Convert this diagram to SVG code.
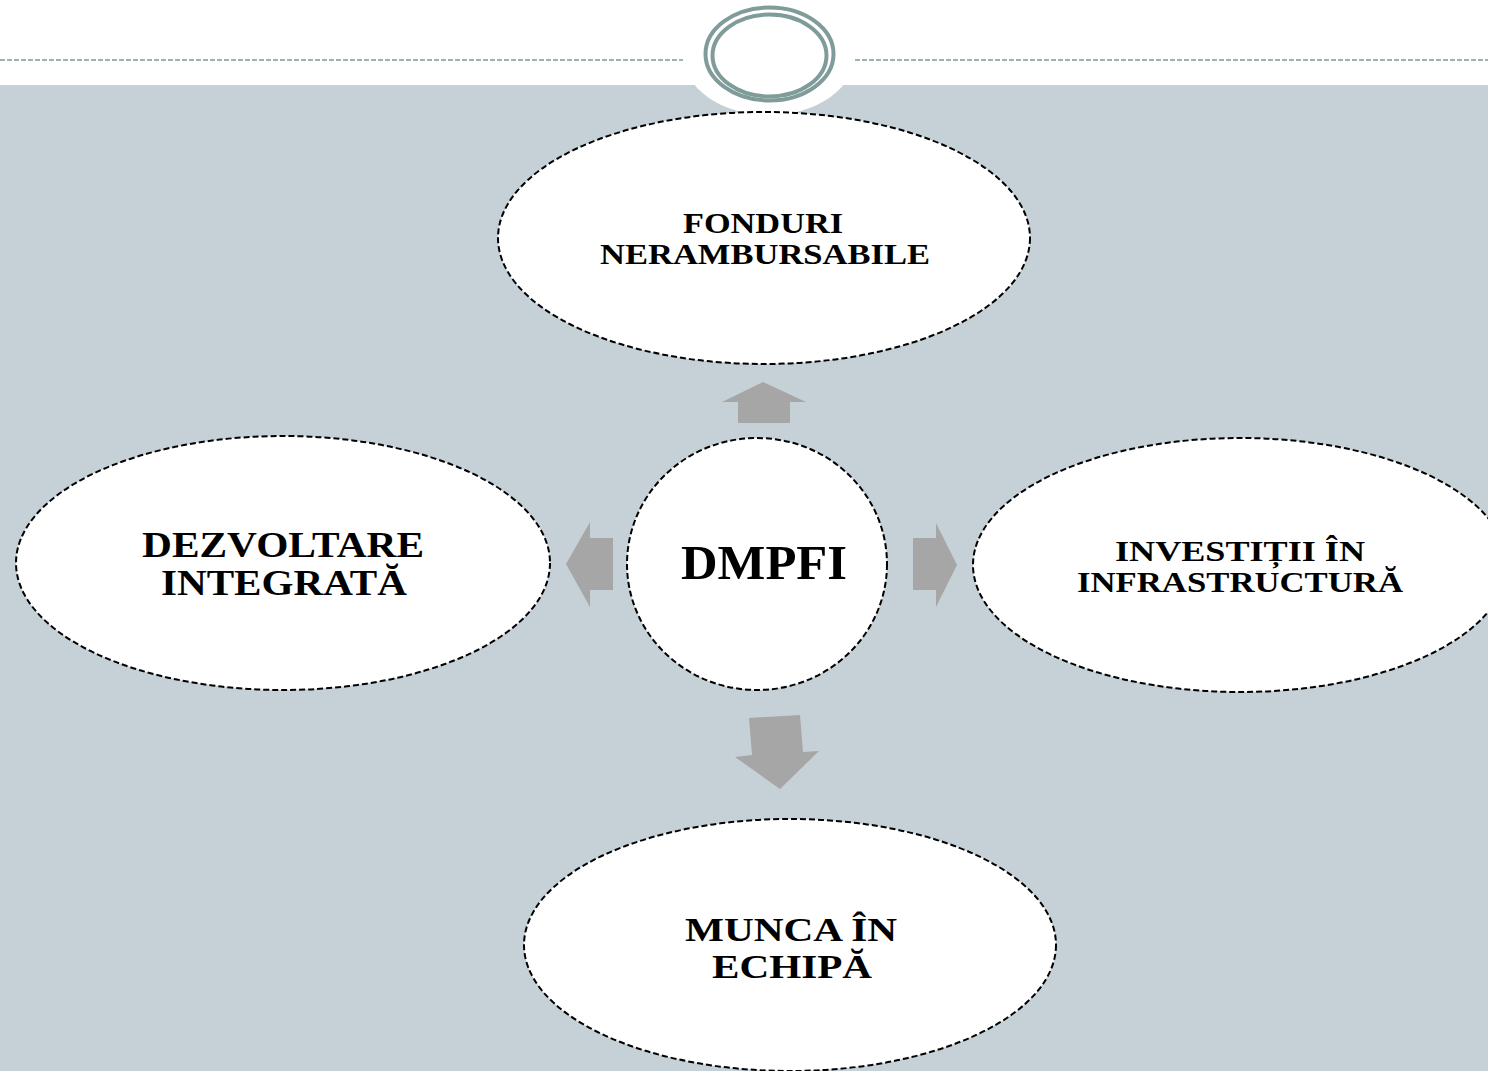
<svg xmlns="http://www.w3.org/2000/svg" width="1488" height="1071" viewBox="0 0 1488 1071">
  <style>
    .node { fill: #FFFFFF; stroke: #000000; stroke-width: 2; stroke-dasharray: 6 3; }
    .lbl { font-family: "Liberation Serif", "Times New Roman", serif; font-weight: bold; fill: #000000; text-anchor: middle; }
    .arrow { fill: #A6A6A6; stroke: none; }
    .ring { fill: none; stroke: #7F9C9A; stroke-width: 4; }
    .rule { stroke: #7F9C9A; stroke-width: 1.6; stroke-dasharray: 5 2; fill: none; }
  </style>
  <rect x="0" y="0" width="1488" height="1071" fill="#FFFFFF"/>
  <rect x="0" y="85" width="1488" height="986" fill="#C5D1D7"/>
  <g id="header">
    <line class="rule" x1="0" y1="60" x2="683" y2="60"/>
    <line class="rule" x1="855" y1="60" x2="1488" y2="60"/>
    <ellipse cx="769" cy="55" rx="86" ry="60" fill="#FFFFFF"/>
    <ellipse class="ring" cx="769.5" cy="54" rx="64" ry="46.5" fill="#FFFFFF"/>
    <ellipse class="ring" cx="769.5" cy="55.5" rx="57" ry="41"/>
  </g>
  <g id="connectors">
    <polygon class="arrow" points="763,382 806,402 790,402 790,423 738,423 738,402 722,402"/>
    <polygon class="arrow" points="566,564 590,522 590,538 613,538 613,590 590,590 590,607"/>
    <polygon class="arrow" points="957,565 936,523 936,538 913,538 913,590 936,590 936,607"/>
    <polygon class="arrow" points="749,718 800,715 803,752 819,751 780,789 735,757 752,755"/>
  </g>
  <g id="node-top">
    <ellipse class="node" cx="764" cy="238" rx="266" ry="126"/>
    <text class="lbl" x="763" y="233" font-size="30" textLength="160" lengthAdjust="spacingAndGlyphs">FONDURI</text>
    <text class="lbl" x="765" y="264" font-size="30" textLength="330" lengthAdjust="spacingAndGlyphs">NERAMBURSABILE</text>
  </g>
  <g id="node-center">
    <ellipse class="node" cx="757" cy="564" rx="130" ry="126"/>
    <text class="lbl" x="764" y="579" font-size="48" textLength="166" lengthAdjust="spacingAndGlyphs">DMPFI</text>
  </g>
  <g id="node-left">
    <ellipse class="node" cx="283" cy="563" rx="267" ry="127"/>
    <text class="lbl" x="283" y="557" font-size="36" textLength="282" lengthAdjust="spacingAndGlyphs">DEZVOLTARE</text>
    <text class="lbl" x="284" y="595" font-size="36" textLength="246" lengthAdjust="spacingAndGlyphs">INTEGRATĂ</text>
  </g>
  <g id="node-right">
    <ellipse class="node" cx="1240" cy="565" rx="267" ry="127"/>
    <text class="lbl" x="1240" y="561" font-size="30" textLength="250" lengthAdjust="spacingAndGlyphs">INVESTIȚII ÎN</text>
    <text class="lbl" x="1240" y="592" font-size="30" textLength="326" lengthAdjust="spacingAndGlyphs">INFRASTRUCTURĂ</text>
  </g>
  <g id="node-bottom">
    <ellipse class="node" cx="790" cy="945" rx="266" ry="126"/>
    <text class="lbl" x="791" y="941" font-size="34" textLength="212" lengthAdjust="spacingAndGlyphs">MUNCA ÎN</text>
    <text class="lbl" x="792" y="978" font-size="34" textLength="160" lengthAdjust="spacingAndGlyphs">ECHIPĂ</text>
  </g>
</svg>
